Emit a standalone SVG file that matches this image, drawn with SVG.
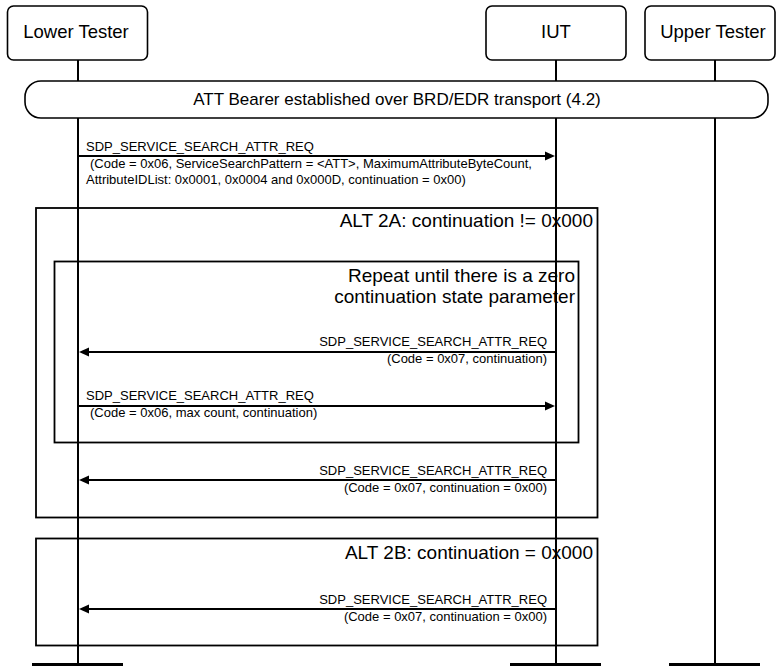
<svg xmlns="http://www.w3.org/2000/svg" width="778" height="666" viewBox="0 0 778 666">
<style>
text{font-family:"Liberation Sans",Arial,sans-serif;fill:#000}
.hdr{font-size:18.5px;text-anchor:middle}
.box{fill:#fff;stroke:#000;stroke-width:1.6}
.life{stroke:#000;stroke-width:2;fill:none}
.frame{fill:none;stroke:#000;stroke-width:1.8}
.msg{stroke:#000;stroke-width:2;fill:none}
.head{fill:#000}
.lbl{font-size:13px}
.end{text-anchor:end}
.flbl{font-size:19px;text-anchor:end}
.bar{fill:#000}
</style>
<rect width="778" height="666" fill="#fff"/>
<g id="lifelines">
<line class="life" x1="78" y1="60" x2="78" y2="664"/>
<line class="life" x1="556" y1="60" x2="556" y2="664"/>
<line class="life" x1="715" y1="60" x2="715" y2="664"/>
</g>
<g id="lower-tester">
<rect class="box" x="7.5" y="6" width="140" height="54" rx="6"/>
<text class="hdr" x="76" y="38">Lower Tester</text>
<rect class="bar" x="32" y="663" width="91" height="3"/>
</g>
<g id="iut">
<rect class="box" x="486" y="6" width="140" height="54" rx="6"/>
<text class="hdr" x="556" y="38">IUT</text>
<rect class="bar" x="510" y="663" width="91" height="3"/>
</g>
<g id="upper-tester">
<rect class="box" x="645" y="6" width="130" height="54" rx="6"/>
<text class="hdr" x="713" y="38">Upper Tester</text>
<rect class="bar" x="669" y="663" width="91" height="3"/>
</g>
<g id="bearer">
<rect class="box" x="25" y="81" width="743" height="37" rx="16"/>
<text x="397" y="105" font-size="17" text-anchor="middle">ATT Bearer established over BRD/EDR transport (4.2)</text>
</g>
<g id="alt2a">
<rect class="frame" x="36" y="208" width="561.5" height="309.5"/>
<text class="flbl" x="593" y="227">ALT 2A: continuation != 0x000</text>
</g>
<g id="repeat">
<rect class="frame" x="54.5" y="261.5" width="524" height="181"/>
<text class="flbl" x="575" y="282">Repeat until there is a zero</text>
<text class="flbl" x="575" y="302.5">continuation state parameter</text>
</g>
<g id="alt2b">
<rect class="frame" x="36" y="538.5" width="561.5" height="107"/>
<text class="flbl" x="593" y="558.5">ALT 2B: continuation = 0x000</text>
</g>
<g id="connectors">
<line class="msg" x1="78" y1="156" x2="547" y2="156"/>
<polygon class="head" points="555,156 545,151.5 545,160.5"/>
<text class="lbl" x="86" y="151">SDP_SERVICE_SEARCH_ATTR_REQ</text>
<text class="lbl" x="90" y="167.5">(Code = 0x06, ServiceSearchPattern = &lt;ATT&gt;, MaximumAttributeByteCount,</text>
<text class="lbl" x="86" y="183.5">AttributeIDList:  0x0001, 0x0004 and 0x000D, continuation = 0x00)</text>

<line class="msg" x1="556" y1="352" x2="88" y2="352"/>
<polygon class="head" points="79,352 89,347.5 89,356.5"/>
<text class="lbl end" x="547" y="346">SDP_SERVICE_SEARCH_ATTR_REQ</text>
<text class="lbl end" x="547" y="363">(Code = 0x07, continuation)</text>

<line class="msg" x1="78" y1="406" x2="547" y2="406"/>
<polygon class="head" points="555,406 545,401.5 545,410.5"/>
<text class="lbl" x="86" y="400">SDP_SERVICE_SEARCH_ATTR_REQ</text>
<text class="lbl" x="90" y="416.5">(Code = 0x06, max count, continuation)</text>

<line class="msg" x1="556" y1="480" x2="88" y2="480"/>
<polygon class="head" points="79,480 89,475.5 89,484.5"/>
<text class="lbl end" x="547" y="475">SDP_SERVICE_SEARCH_ATTR_REQ</text>
<text class="lbl end" x="547" y="491.5">(Code = 0x07, continuation = 0x00)</text>

<line class="msg" x1="556" y1="609" x2="88" y2="609"/>
<polygon class="head" points="79,609 89,604.5 89,613.5"/>
<text class="lbl end" x="547" y="604">SDP_SERVICE_SEARCH_ATTR_REQ</text>
<text class="lbl end" x="547" y="621">(Code = 0x07, continuation = 0x00)</text>
</g>
</svg>
